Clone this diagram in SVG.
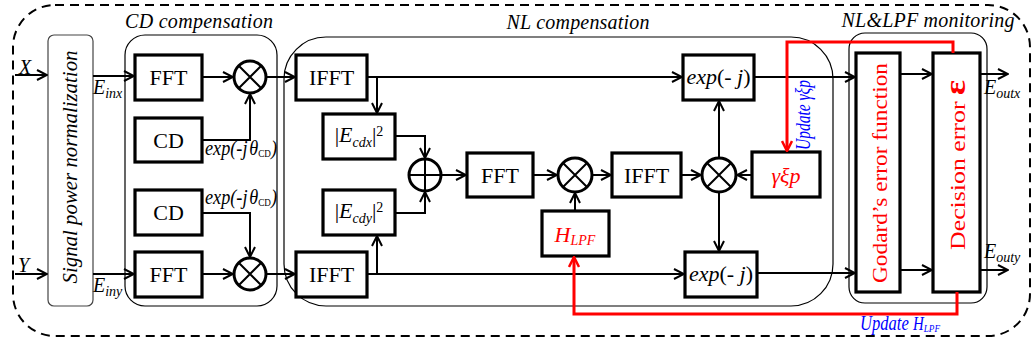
<svg xmlns="http://www.w3.org/2000/svg" width="1033" height="346" viewBox="0 0 1033 346">
<defs>
<marker id="ah" viewBox="0 0 12 12" refX="11" refY="6" markerWidth="12" markerHeight="12" markerUnits="userSpaceOnUse" orient="auto"><path d="M1,1 L11,6 L1,11" fill="none" stroke="#000" stroke-width="2"/></marker>
<marker id="ahr" viewBox="0 0 12 12" refX="11" refY="6" markerWidth="12" markerHeight="12" markerUnits="userSpaceOnUse" orient="auto"><path d="M1,1 L11,6 L1,11" fill="none" stroke="#f00" stroke-width="2.5"/></marker>
</defs>
<style>
.box{fill:#fff;stroke:#000;stroke-width:3.2}
.grp{fill:none;stroke:#000;stroke-width:1.2}
.ln{fill:none;stroke:#000;stroke-width:2;marker-end:url(#ah)}
.pl{fill:none;stroke:#000;stroke-width:2}
.rl{fill:none;stroke:#f00;stroke-width:3;marker-end:url(#ahr)}
.op{fill:#fff;stroke:#000;stroke-width:3}
.t{font-family:"Liberation Serif","Times New Roman",serif;font-size:22px;text-anchor:middle;fill:#000}
.ts{font-family:"Liberation Serif","Times New Roman",serif;font-size:20px;fill:#000}
.it{font-style:italic}
.red{fill:#f00}
.blue{fill:#00f}
</style>
<rect x="13" y="5" width="1017" height="331" rx="42" fill="none" stroke="#000" stroke-width="2" stroke-dasharray="9 6"/>
<g id="groups">
<rect class="grp" x="125" y="35" width="152" height="271" rx="20"/>
<rect class="grp" x="284" y="37" width="549" height="269" rx="42"/>
<rect class="grp" x="849" y="33" width="138" height="270" rx="16"/>
<text class="ts it" x="199" y="28" text-anchor="middle" textLength="148">CD compensation</text>
<text class="ts it" x="578" y="29" text-anchor="middle" textLength="143">NL compensation</text>
<text class="ts it" x="928" y="27" text-anchor="middle" textLength="173">NL&amp;LPF monitoring</text>
</g>
<g id="norm">
<rect x="48" y="35" width="45" height="271" rx="6" fill="#fff" stroke="#444" stroke-width="1.2"/>
<text class="ts it" transform="translate(77,167) rotate(-90)" text-anchor="middle" font-size="22" textLength="233" lengthAdjust="spacingAndGlyphs">Signal power normalization</text>
</g>
<g id="fft1"><rect class="box" x="135" y="55" width="67" height="45"/><text class="t" x="168.5" y="85">FFT</text></g>
<g id="cd1"><rect class="box" x="135" y="118" width="67" height="44"/><text class="t" x="168.5" y="148">CD</text></g>
<g id="mul1"><circle class="op" cx="250" cy="77" r="16"/><path class="pl" d="M239,66 L261,88 M261,66 L239,88" stroke-width="3"/></g>
<g id="cd2"><rect class="box" x="135" y="190" width="67" height="45"/><text class="t" x="168.5" y="220">CD</text></g>
<g id="fft2"><rect class="box" x="135" y="252" width="67" height="45"/><text class="t" x="168.5" y="282">FFT</text></g>
<g id="mul2"><circle class="op" cx="250" cy="274" r="16"/><path class="pl" d="M239,263 L261,285 M261,263 L239,285" stroke-width="3"/></g>
<g id="ifft1"><rect class="box" x="296" y="55" width="71" height="45"/><text class="t" x="331.5" y="85">IFFT</text></g>
<g id="ifft2"><rect class="box" x="296" y="252" width="71" height="45"/><text class="t" x="331.5" y="282">IFFT</text></g>
<g id="ecdx"><rect class="box" x="323" y="114" width="72" height="45"/><text class="t" x="359" y="142" font-size="20">|<tspan class="it">E</tspan><tspan class="it" font-size="14" dy="5">cdx</tspan><tspan dy="-5">|</tspan><tspan font-size="14" dy="-6">2</tspan></text></g>
<g id="ecdy"><rect class="box" x="323" y="190" width="72" height="45"/><text class="t" x="359" y="218" font-size="20">|<tspan class="it">E</tspan><tspan class="it" font-size="14" dy="5">cdy</tspan><tspan dy="-5">|</tspan><tspan font-size="14" dy="-6">2</tspan></text></g>
<g id="add"><circle class="op" cx="425" cy="175" r="16"/><path class="pl" d="M409,175 L441,175 M425,159 L425,191" stroke-width="3"/></g>
<g id="fft3"><rect class="box" x="467" y="153" width="66" height="44"/><text class="t" x="500" y="183">FFT</text></g>
<g id="mul3"><circle class="op" cx="575" cy="175" r="17"/><path class="pl" d="M563,163 L587,187 M587,163 L563,187" stroke-width="3"/></g>
<g id="ifft3"><rect class="box" x="612" y="153" width="69" height="44"/><text class="t" x="646.5" y="183">IFFT</text></g>
<g id="hlpf"><rect class="box" x="542" y="211" width="67" height="45"/><text class="t red" x="575" y="242"><tspan class="it">H</tspan><tspan class="it" font-size="14" dy="3">LPF</tspan></text></g>
<g id="mul4"><circle class="op" cx="719" cy="175" r="17"/><path class="pl" d="M707,163 L731,187 M731,163 L707,187" stroke-width="3"/></g>
<g id="gxp"><rect class="box" x="752" y="152" width="68" height="45"/><text class="t it red" x="786" y="183">γξp</text></g>
<g id="exp1"><rect class="box" x="683" y="55" width="71" height="45"/><text class="t" x="718.5" y="84" font-size="21"><tspan class="it">exp</tspan>(- <tspan class="it">j</tspan>)</text></g>
<g id="exp2"><rect class="box" x="685" y="252" width="72" height="45"/><text class="t" x="721" y="281" font-size="21"><tspan class="it">exp</tspan>(- <tspan class="it">j</tspan>)</text></g>
<g id="godard"><rect class="box" x="856" y="53" width="44" height="239"/><text class="t red" transform="translate(887,173) rotate(-90)" font-size="26" textLength="220" lengthAdjust="spacingAndGlyphs">Godard’s error function</text></g>
<g id="decision"><rect class="box" x="933" y="53" width="47" height="239"/><text class="t red" transform="translate(965,165) rotate(-90)" font-size="26" textLength="170" lengthAdjust="spacingAndGlyphs">Decision error <tspan font-size="30" font-weight="bold">ε</tspan></text></g>
<g id="connectors">
<path class="ln" d="M15,75 L47,75"/>
<path class="ln" d="M15,274 L47,274"/>
<path class="ln" d="M93,76 L134,76"/>
<path class="ln" d="M93,274 L134,274"/>
<path class="ln" d="M202,77 L233,77"/>
<path class="ln" d="M202,274 L233,274"/>
<path class="ln" d="M202,140 L250,140 L250,94"/>
<path class="ln" d="M202,213 L250,213 L250,257"/>
<path class="ln" d="M266,77 L295,77"/>
<path class="ln" d="M266,274 L295,274"/>
<path class="ln" d="M367,77 L682,77"/>
<path class="ln" d="M377,77 L377,113"/>
<path class="ln" d="M367,274 L684,274"/>
<path class="ln" d="M377,274 L377,236"/>
<path class="ln" d="M395,136 L425,136 L425,158"/>
<path class="ln" d="M395,213 L425,213 L425,192"/>
<path class="ln" d="M441,175 L466,175"/>
<path class="ln" d="M533,175 L557,175"/>
<path class="ln" d="M592,175 L611,175"/>
<path class="ln" d="M575,211 L575,193"/>
<path class="ln" d="M681,175 L701,175"/>
<path class="ln" d="M752,175 L737,175"/>
<path class="ln" d="M719,158 L719,101"/>
<path class="ln" d="M719,192 L719,251"/>
<path class="ln" d="M754,77 L855,77"/>
<path class="ln" d="M757,273 L855,273"/>
<path class="ln" d="M900,74 L932,74"/>
<path class="ln" d="M900,270 L932,270"/>
<path class="ln" d="M980,74 L1008,74"/>
<path class="ln" d="M980,270 L1008,270"/>
<path class="rl" d="M953,53 L953,42 L787,42 L787,151"/>
<path class="rl" d="M957,292 L957,314 L574,314 L574,257"/>
</g>
<g id="labels">
<text class="ts it" x="19" y="74">X</text>
<text class="ts it" x="18" y="272">Y</text>
<text class="ts" x="93" y="94"><tspan class="it">E</tspan><tspan class="it" font-size="14" dy="4">inx</tspan></text>
<text class="ts" x="93" y="292"><tspan class="it">E</tspan><tspan class="it" font-size="14" dy="4">iny</tspan></text>
<text class="ts" x="984" y="94"><tspan class="it">E</tspan><tspan class="it" font-size="14" dy="4">outx</tspan></text>
<text class="ts" x="984" y="258"><tspan class="it">E</tspan><tspan class="it" font-size="14" dy="4">outy</tspan></text>
<text class="ts" x="205" y="155" font-size="14" textLength="72" lengthAdjust="spacingAndGlyphs"><tspan class="it">exp(-j</tspan><tspan class="it" dx="2">θ</tspan><tspan font-size="10" dy="2">CD</tspan><tspan class="it" dy="-2">)</tspan></text>
<text class="ts" x="205" y="204" font-size="14" textLength="72" lengthAdjust="spacingAndGlyphs"><tspan class="it">exp(-j</tspan><tspan class="it" dx="2">θ</tspan><tspan font-size="10" dy="2">CD</tspan><tspan class="it" dy="-2">)</tspan></text>
<text class="ts it blue" transform="translate(810,115) rotate(-90)" text-anchor="middle" font-size="13" textLength="70" lengthAdjust="spacingAndGlyphs">Update γξp</text>
<text class="ts it blue" x="860" y="330" font-size="13" textLength="80" lengthAdjust="spacingAndGlyphs">Update <tspan font-size="18">H</tspan><tspan font-size="11" dy="2">LPF</tspan></text>
</g>
</svg>
